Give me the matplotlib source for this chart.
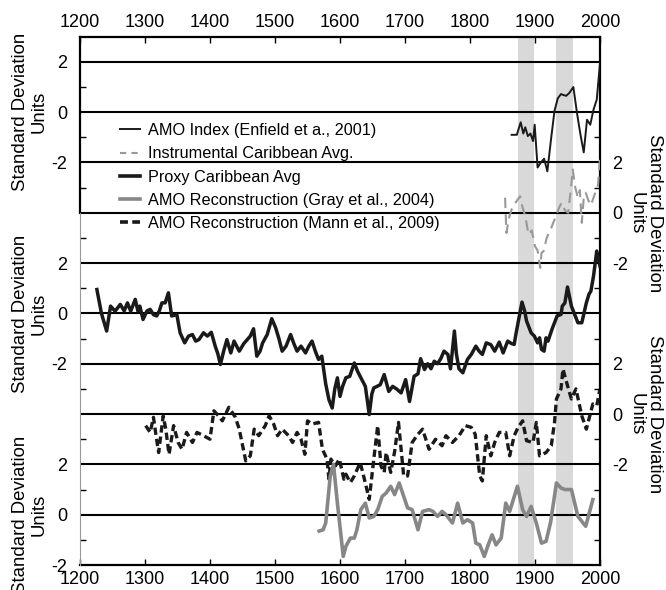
import matplotlib
matplotlib.use("Agg")
import matplotlib.pyplot as plt
from matplotlib.lines import Line2D
import numpy as np

plt.rcParams['font.family'] = ['Liberation Sans', 'DejaVu Sans']

# ---------------- data (standard deviation units) ----------------
amo_years = [1864, 1872, 1878, 1882, 1885, 1889, 1893, 1897, 1899.5, 1904, 1909, 1914, 1919,
             1925, 1930, 1935, 1940, 1944, 1948, 1953, 1959, 1965, 1970, 1975, 1980, 1985,
             1990, 1995, 2000]
amo_vals = [-0.9, -0.9, -0.4, -0.85, -0.6, -0.95, -0.85, -1.15, -0.5, -2.2, -2.0, -1.85, -2.35,
            -1.0, 0.05, 0.55, 0.72, 0.68, 0.65, 0.77, 1.0, -0.1, -0.9, -1.6, -0.3, -0.5,
            0.1, 0.5, 1.95]

inst_years = [1854, 1856, 1860, 1864, 1870, 1877, 1881, 1885, 1890, 1895, 1900, 1904, 1908,
              1910, 1913, 1918, 1925, 1933, 1937, 1941, 1946, 1951, 1955, 1958, 1962, 1966,
              1969, 1972, 1975, 1978, 1982, 1986, 1990, 1994, 1997, 2000]
inst_vals = [0.6, -0.8, -0.2, 0.13, 0.4, 0.66, 0.2, -0.13, -0.86, -0.7, -1.33, -1.5, -2.19,
             -1.6, -1.53, -1.0, -0.6, -0.07, 0.2, 0.4, 0.1, 0.0, 0.9, 1.72, 1.0, 0.6,
             0.9, -0.4, 0.6, 0.8, 0.5, 0.3, 0.6, 0.9, 1.1, 2.2]

proxy_years = [1226, 1233, 1241, 1247, 1254, 1262, 1268, 1273, 1278, 1285, 1289, 1292, 1297,
               1303, 1308, 1313, 1318, 1322, 1326, 1331, 1336, 1341, 1349, 1354, 1361, 1367,
               1373, 1378, 1383, 1390, 1396, 1402, 1408, 1412, 1416, 1421, 1426, 1432, 1437,
               1445, 1452, 1462, 1467, 1472, 1477, 1481, 1488, 1495, 1501, 1506, 1511, 1517,
               1524, 1529, 1534, 1540, 1547, 1552, 1557, 1562, 1567, 1572, 1578, 1583, 1588,
               1592, 1596, 1600, 1604, 1609, 1615, 1622, 1627, 1633, 1639, 1645, 1649, 1652,
               1657, 1662, 1668, 1675, 1681, 1687, 1694, 1701, 1707, 1714, 1720, 1724, 1730,
               1735, 1740, 1745, 1750, 1755, 1760, 1766, 1770, 1776, 1779, 1783, 1789, 1796,
               1802, 1809, 1814, 1819, 1825, 1832, 1838, 1845, 1851, 1858, 1864, 1868, 1871,
               1874, 1880, 1884, 1887, 1894, 1899, 1904, 1907, 1910, 1914, 1917, 1920, 1926,
               1934, 1940, 1942, 1946, 1950, 1956, 1966, 1972, 1979, 1983, 1986, 1990, 1995,
               2000]
proxy_vals = [0.95, 0.0, -0.7, 0.29, 0.09, 0.36, 0.1, 0.42, 0.09, 0.56, 0.1, 0.29, -0.24,
              0.1, 0.16, -0.05, -0.1, 0.1, 0.42, 0.42, 0.82, -0.1, -0.05, -0.77, -1.17, -0.9,
              -0.84, -1.1, -1.04, -0.77, -0.9, -0.75, -1.3, -1.6, -2.03, -1.5, -1.04, -1.57, -1.1,
              -1.5, -1.2, -0.9, -0.61, -1.7, -1.5, -1.17, -0.84, -0.21, -0.57, -1.0, -1.5, -1.3,
              -0.84, -1.2, -1.5, -1.3, -1.57, -1.3, -1.1, -1.5, -1.83, -1.7, -2.8, -3.43, -3.76,
              -3.0, -2.56, -3.3, -2.9, -2.56, -2.5, -1.97, -2.3, -2.6, -2.9, -4.02, -3.2, -2.96,
              -2.9, -2.83, -2.43, -3.1, -2.9, -3.0, -3.16, -2.63, -3.5, -2.5, -2.4, -1.8, -2.23,
              -2.0, -2.2, -1.9, -2.0, -1.8, -1.5, -1.63, -2.2, -0.7, -1.6, -2.2, -2.36, -1.83,
              -1.63, -1.3, -1.5, -1.63, -1.17, -1.24, -1.5, -1.14, -1.57, -1.1, -1.2, -1.23, -0.77,
              -0.37, 0.45, 0.1, -0.3, -0.77, -0.9, -1.17, -0.97, -1.43, -1.5, -0.97, -1.1, -0.64,
              -0.1, -0.04, 0.29, 0.42, 1.05, 0.29, -0.37, -0.37, 0.42, 0.76, 0.89, 1.48, 2.48,
              1.88]

mann_years = [1301, 1308, 1313, 1317, 1321, 1328, 1332, 1337, 1344, 1351, 1357, 1364, 1373,
              1380, 1390, 1400, 1406, 1413, 1419, 1429, 1439, 1445, 1455, 1462, 1468, 1475,
              1485, 1491, 1498, 1504, 1511, 1521, 1527, 1534, 1540, 1546, 1550, 1557, 1567,
              1573, 1580, 1583, 1586, 1593, 1599, 1606, 1609, 1616, 1622, 1631, 1635, 1645,
              1652, 1658, 1663, 1668, 1671, 1678, 1684, 1690, 1698, 1704, 1711, 1720, 1727,
              1737, 1747, 1757, 1763, 1773, 1783, 1793, 1802, 1808, 1815, 1819, 1825, 1832,
              1838, 1845, 1855, 1861, 1868, 1874, 1881, 1887, 1897, 1902, 1907, 1917, 1925,
              1930, 1933, 1940, 1943, 1950, 1956, 1963, 1972, 1979, 1989, 1995, 2000]
mann_vals = [-0.46, -0.73, -0.13, -0.86, -1.53, -0.07, -0.6, -1.6, -0.46, -1.13, -1.4, -0.73, -1.13,
             -0.73, -0.86, -1.0, 0.13, -0.07, -0.27, 0.27, -0.13, -0.6, -1.86, -1.66, -0.6, -0.86,
             -0.46, -0.07, -0.4, -0.86, -0.6, -0.86, -1.13, -0.73, -1.0, -1.6, -0.27, -0.4, -0.33,
             -1.4, -1.79, -2.59, -1.79, -2.06, -1.79, -2.59, -2.39, -2.72, -2.46, -1.93, -2.32, -3.39,
             -1.79, -0.46, -2.06, -2.32, -1.53, -2.32, -1.5, -0.33, -2.46, -2.46, -1.13, -0.8, -0.6,
             -1.4, -1.0, -1.26, -0.86, -1.13, -0.86, -0.46, -0.53, -0.8, -2.46, -2.66, -0.86, -1.66,
             -1.13, -0.73, -0.73, -1.66, -0.86, -0.53, -0.27, -1.06, -1.13, -0.33, -1.66, -1.53, -1.26,
             -0.33, 0.6, 1.0, 1.79, 1.13, 0.6, 1.0, -0.07, -0.6, 0.4, 0.33, 1.0]

gray_years = [1568, 1574, 1578, 1585, 1590, 1596, 1605, 1609, 1616, 1622, 1626, 1632, 1639,
              1645, 1652, 1658, 1665, 1671, 1678, 1684, 1691, 1698, 1704, 1711, 1720, 1727,
              1737, 1743, 1750, 1757, 1763, 1773, 1781, 1789, 1796, 1804, 1809, 1815, 1822,
              1828, 1834, 1840, 1848, 1855, 1861, 1873, 1881, 1887, 1894, 1902, 1910, 1917,
              1924, 1933, 1940, 1946, 1956, 1966, 1978, 1989]
gray_vals = [-0.65, -0.6, -0.33, 1.53, 2.0, 0.46, -1.66, -1.26, -0.93, -0.93, -0.6, 0.2, 0.46,
             -0.13, -0.07, 0.2, 0.73, 0.86, 1.13, 0.8, 1.26, 0.73, 0.27, 0.2, -0.6, 0.13,
             0.2, 0.13, -0.07, 0.13, 0.0, -0.33, 0.46, -0.33, -0.2, -0.33, -1.13, -1.2, -1.66,
             -1.2, -0.8, -1.2, -0.93, 0.46, 0.13, 1.13, 0.2, -0.07, 0.33, -0.33, -1.13, -1.06,
             -0.3, 1.26, 1.06, 1.0, 1.0, -0.07, -0.46, 0.6]

shade_periods = [(1874, 1899), (1932, 1958)]
x_ticks = list(range(1200, 2001, 100))

# ---------------- layout ----------------
W, H = 666, 590
fig = plt.figure(figsize=(W / 100, H / 100), dpi=100)
L, R, T, B = 80, 600, 36.7, 565
ax = fig.add_axes([L / W, 1 - B / H, (R - L) / W, (B - T) / H])
ax.set_xlim(1200, 2000)
ax.set_ylim(-18, 3)

# vertical offsets of each stacked panel (in the shared axis units)
off_amo, off_inst, off_proxy, off_mann, off_gray = 0, -4, -8, -12, -16

for a, b in shade_periods:
    ax.axvspan(a, b, color='#d9d9d9', lw=0, zorder=0)

for g in [2, 0, -2, -4, -6, -8, -10, -12, -14, -16]:
    ax.axhline(g, color='black', lw=1.5, zorder=1)

ax.plot(amo_years, np.array(amo_vals) + off_amo, color='#1a1a1a', lw=1.4, zorder=3)
ax.plot(inst_years, np.array(inst_vals) + off_inst, color='#999999', lw=1.5,
        dashes=(5, 3), zorder=3)
ax.plot(proxy_years, np.array(proxy_vals) + off_proxy, color='#1a1a1a', lw=2.5, zorder=3)
ax.plot(mann_years, np.array(mann_vals) + off_mann, color='#1a1a1a', lw=2.4,
        dashes=(2.2, 1.2), zorder=3)
ax.plot(gray_years, np.array(gray_vals) + off_gray, color='#878787', lw=2.6, zorder=3)

# spines
for s in ['top', 'bottom', 'right']:
    ax.spines[s].set_linewidth(1.6)
ax.spines['left'].set_visible(False)
ax.axvline(1200, ymin=(-4 + 18) / 21, ymax=1, color='black', lw=1.6, zorder=4, clip_on=False)
ax.axvline(1200, ymin=0, ymax=(-4 + 18) / 21, color='#999999', lw=0.8, zorder=4, clip_on=False)

# x ticks
ax.set_xticks(x_ticks)
ax.tick_params(axis='x', which='major', direction='in', length=4, width=1,
               top=True, labeltop=True, bottom=True, labelbottom=True,
               labelsize=13, pad=4)

# left y ticks
left_pos = [2, 0, -2, -6, -8, -10, -14, -16, -18]
left_lab = ['2', '0', '-2'] * 3
ax.set_yticks(left_pos)
ax.set_yticklabels(left_lab)
ax.set_yticks(list(range(-17, 2, 2)), minor=True)
ax.tick_params(axis='y', which='major', length=0, labelsize=13, pad=9)
ax.tick_params(axis='y', which='minor', direction='in', length=4, width=1)

# right y ticks
ax2 = ax.twinx()
ax2.set_ylim(ax.get_ylim())
for s in ax2.spines.values():
    s.set_visible(False)
right_pos = [-2, -4, -6, -10, -12, -14]
right_lab = ['2', '0', '-2'] * 2
ax2.set_yticks(right_pos)
ax2.set_yticklabels(right_lab)
ax2.set_yticks(list(range(-17, 0, 2)), minor=True)
ax2.tick_params(axis='y', which='major', length=0, labelsize=13, pad=9)
ax2.tick_params(axis='y', which='minor', direction='in', length=4, width=1)

# axis titles
lab = 'Standard Deviation\nUnits'
for g in [0 + off_amo, 0 + off_proxy, 0 + off_gray]:
    ax.text((30 - L) / (R - L), (g + 18) / 21, lab, transform=ax.transAxes, rotation=90,
            ha='center', va='center', fontsize=13.4, linespacing=1.1)
for g in [0 + off_inst, 0 + off_mann]:
    ax.text((645 - L) / (R - L), (g + 18) / 21, lab, transform=ax.transAxes, rotation=-90,
            ha='center', va='center', fontsize=13.4, linespacing=1.1)

# legend
handles = [
    Line2D([], [], color='#1a1a1a', lw=1.4),
    Line2D([], [], color='#999999', lw=1.5, dashes=(3, 2.5)),
    Line2D([], [], color='#1a1a1a', lw=2.6),
    Line2D([], [], color='#878787', lw=2.6),
    Line2D([], [], color='#1a1a1a', lw=2.6, dashes=(2.2, 1.2)),
]
labels = ['AMO Index (Enfield et a., 2001)', 'Instrumental Caribbean Avg.',
          'Proxy Caribbean Avg', 'AMO Reconstruction (Gray et al., 2004)',
          'AMO Reconstruction (Mann et al., 2009)']
leg = ax.legend(handles, labels, loc='upper left', bbox_to_anchor=(120 / W, 1 - 123 / H),
                bbox_transform=fig.transFigure, frameon=False, fontsize=11.7,
                handlelength=1.25, handletextpad=0.45, labelspacing=0.51,
                borderpad=0, borderaxespad=0)
leg.set_zorder(5)

fig.savefig('out.png', dpi=100)
